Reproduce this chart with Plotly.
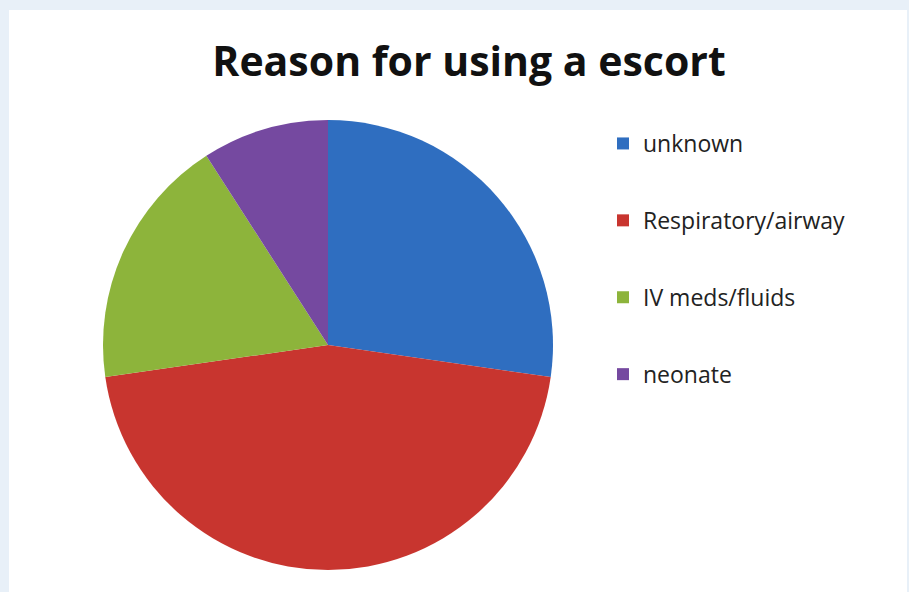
import plotly.graph_objects as go

# Escort reasons (counts)
reasons = ["unknown", "Respiratory/airway", "IV meds/fluids", "neonate"]
counts = [3, 5, 2, 1]
colors = ["#2f6ec0", "#c8352f", "#8db43b", "#7549a0"]

W, H = 909, 592

fig = go.Figure()

fig.add_trace(go.Pie(
    labels=reasons,
    values=counts,
    marker=dict(colors=colors, line=dict(width=0)),
    sort=False,
    direction="clockwise",
    rotation=0,
    textinfo="none",
    hoverinfo="label+value+percent",
    showlegend=False,
    domain=dict(x=[103 / W, 553 / W], y=[1 - 570 / H, 1 - 120 / H]),
))

# Legend entries, one group per reason so the spacing can be set
for name, col in zip(reasons, colors):
    fig.add_trace(go.Scatter(
        x=[None], y=[None], mode="markers", name=name, legendgroup=name,
        marker=dict(symbol="square", size=12, color=col),
    ))

fig.update_layout(
    width=W, height=H,
    margin=dict(l=0, r=0, t=0, b=0),
    paper_bgcolor="#e8f0f8",
    plot_bgcolor="rgba(0,0,0,0)",
    xaxis=dict(visible=False), yaxis=dict(visible=False),
    title=dict(
        text="<b>Reason for using a escort</b>",
        x=0.516, xanchor="center", y=1 - 62 / H, yanchor="middle",
        font=dict(family="Open Sans", size=41, color="#111111"),
    ),
    legend=dict(
        x=603 / W, xanchor="left", y=1 - 122 / H, yanchor="top",
        font=dict(family="Open Sans", size=23, color="#222222"),
        tracegroupgap=44,
        bgcolor="rgba(0,0,0,0)",
        itemclick=False,
    ),
    shapes=[dict(
        type="rect", xref="paper", yref="paper", layer="below",
        x0=9 / W, x1=907 / W, y0=0, y1=1 - 10 / H,
        fillcolor="white", line=dict(width=0),
    )],
)

fig.write_html("out.html")
